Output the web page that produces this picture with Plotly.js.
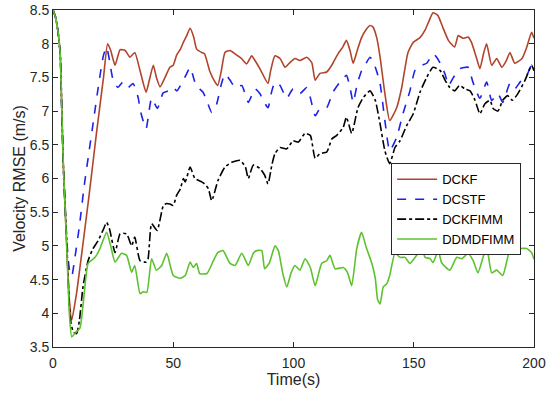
<!DOCTYPE html>
<html>
<head>
<meta charset="utf-8">
<script src="https://cdn.plot.ly/plotly-3.0.1.min.js"></script>
<style>html,body{margin:0;padding:0;background:#fff;}#chart{width:550px;height:393px;}</style>
</head>
<body>
<div id="chart"></div>
<script>
const seriesNames = ['DCKF', 'DCSTF', 'DCKFIMM', 'DDMDFIMM'];
const xTicks = [0, 50, 100, 150, 200];
const yTicks = [3.5, 4, 4.5, 5, 5.5, 6, 6.5, 7, 7.5, 8, 8.5];

const tDCKF = [0,1,2,3,3.6,4.3,5.7,6.8,7.8,9.8,12,15,18,21,22.7,24,25.8,27.9,30,32,34,36.2,38.7,40,41.7,43,44.5,46.6,48.6,50,51.4,53,54.2,55.6,57,58.5,59.7,61.8,63,65.3,67.4,68.5,70,71.5,73.6,75.7,78.4,80.5,82.6,84,86,89.4,90.5,92.3,94.4,96.5,98.5,100.6,102.7,105.5,107.6,109,111,113.8,115.9,118.5,120.5,122,123.5,124.8,126.5,128.3,130,131.8,133,134.6,136,138,140,142.9,145,147.6,149.8,152.6,154.7,156.5,158,160,162,164.4,167,168.5,170.5,172.6,174,176,177.5,179,180.3,182.4,184.5,186.6,188.5,190,192,195,197,199,200];
const vDCKF = [8.5,8.4,8.2,7.85,7.1,6.2,5.0,4.2,3.9,4.3,4.9,5.75,6.65,7.5,8.0,7.9,7.68,7.91,7.9,7.8,7.87,7.6,7.28,7.45,7.68,7.5,7.36,7.5,7.65,7.68,7.83,7.92,8.02,8.12,8.23,8.1,7.92,7.87,7.85,7.58,7.43,7.38,7.6,7.87,7.9,7.85,7.78,7.7,7.82,7.75,7.63,7.41,7.6,7.82,7.78,7.65,7.72,7.78,7.75,7.8,7.72,7.46,7.56,7.58,7.68,7.85,7.95,8.05,7.9,7.71,7.9,8.09,8.2,8.27,8.25,8.09,7.8,7.26,6.86,7.05,7.35,7.87,8.02,8.09,8.2,8.35,8.46,8.42,8.25,8.05,7.95,8.12,8.08,8.1,8.02,7.8,7.63,7.85,8.0,7.68,7.78,7.65,7.75,7.87,7.71,7.78,7.95,8.17,8.08];

const tDCSTF = [0,1,2,3,3.6,4.3,5.5,6.8,7.8,9,11,13,15,17,19,21,22.3,23.5,25,27,29,31.2,33.3,35.4,36.5,38.7,41,43.4,45.8,48,50,51.5,53.5,55.5,57,58,59.5,62.4,64,66,68,70,71.5,73.6,75.7,78.5,81.2,84,86,87.5,89.4,91,92.3,94.4,97.2,99.8,102.7,105.5,107,109,111,113.8,116.4,119.3,122,123.5,124.8,126.5,128.3,130,131.8,133,134.5,136,138,140,142.9,145.5,148.4,150.5,153.3,155.4,158,159.5,161,163,164.5,166.5,169.2,172.6,174.6,177.5,180.3,182.4,185,187,190,192,194.2,197,199,200];
const vDCSTF = [8.5,8.4,8.2,7.85,7.1,6.2,5.2,4.65,4.55,4.8,5.3,5.9,6.4,6.9,7.4,7.83,7.95,7.75,7.46,7.35,7.43,7.35,7.41,7.2,6.98,6.74,7.19,7.04,7.27,7.3,7.35,7.3,7.41,7.55,7.65,7.55,7.38,7.28,7.15,6.98,7.1,7.4,7.55,7.46,7.35,7.38,7.13,7.33,7.26,7.15,7.05,7.3,7.43,7.38,7.19,7.33,7.26,7.35,7.2,6.93,7.04,7.05,7.28,7.43,7.53,7.35,7.13,7.4,7.6,7.7,7.8,7.75,7.6,7.41,6.86,6.41,6.61,6.96,7.3,7.6,7.68,7.71,7.85,7.8,7.71,7.55,7.38,7.5,7.63,7.65,7.43,7.19,7.43,7.16,7.26,7.13,7.41,7.33,7.43,7.53,7.68,7.58];

const tDCKFIMM = [0,1,2,3,3.6,4.3,5.7,6.8,7.5,8.5,9.8,11,12.5,14.6,16.5,18.8,21,22.3,23.5,25.8,27.9,30.6,32.7,34,36.2,38.7,39.5,41,43.3,45.9,47.3,48.6,50,51.4,53,54.2,55,57,59,61.8,63,64.6,66,68.6,71.5,74.3,77.8,80,81.2,83.3,86,88,89.4,91,92.3,94.4,97.2,99.8,102,104.8,107,109,111,113.8,116,118,120.7,122,124.2,126.8,129,131.8,134,136,138,140,142.2,144.3,147,149.8,152.6,155.4,158,161,163,165,167,169,171.3,173.4,175.5,177.5,179.6,181.7,183,185,187,189,191,193.3,196.3,199,200];
const vDCKFIMM = [8.5,8.4,8.2,7.85,7.1,6.2,5.1,4.1,3.85,3.72,3.7,3.9,4.4,4.78,4.95,5.08,5.25,5.35,5.25,4.9,5.18,5.18,5.0,5.13,4.78,4.76,4.8,5.33,5.23,5.6,5.63,5.62,5.6,5.75,5.85,6.0,5.95,6.17,6.0,5.95,5.92,5.85,5.67,5.97,6.17,6.24,6.27,6.17,6.0,6.2,6.15,6.05,5.92,6.2,6.37,6.46,6.44,6.56,6.54,6.67,6.64,6.3,6.37,6.39,6.59,6.64,6.76,6.91,6.67,7.05,7.2,7.3,7.16,6.81,6.41,6.22,6.46,6.56,6.78,6.96,7.28,7.5,7.65,7.6,7.46,7.35,7.3,7.38,7.33,7.3,7.16,6.96,7.11,7.16,7.04,7.0,7.16,7.23,7.16,7.26,7.46,7.68,7.6];

const tDDMDFIMM = [0,1,2,3,3.6,4.3,5.7,6.8,7.8,9.5,11.2,13,14.6,17.5,19.5,22.3,24,25.8,28.5,30.6,32.7,34,36.2,37.5,39,41,43,45.2,47.3,50,52.8,55,57,58.3,59.7,61,64,66.7,68.5,70.7,73.6,75.7,78.5,81.2,83.3,84.7,86.8,88,90,92.3,93.7,95.5,97.2,99,100.6,102.7,104.8,107,109,111.7,113.8,115.2,117.3,120.7,122.5,124.2,126.3,128.3,130.4,132.5,134,135,136,137.3,138.8,140,142.2,144.3,146.4,148.4,151.2,153.3,154.7,156.8,158,160.2,161.6,165,167.9,170,172.6,174.7,176.7,178.8,180.3,182.4,184.5,187,190,192,194.2,197,199,200];
const vDDMDFIMM = [8.5,8.4,8.2,7.85,7.1,6.2,5.0,4.0,3.65,3.72,3.78,4.3,4.74,4.83,4.96,5.2,5.0,4.76,4.89,4.86,4.61,4.71,4.29,4.32,4.31,4.81,4.64,4.71,4.89,4.56,4.52,4.56,4.76,4.68,4.74,4.59,4.59,4.78,4.9,4.93,4.74,4.71,4.89,4.71,4.89,4.93,4.93,4.66,4.75,5.0,4.93,4.6,4.39,4.6,4.71,4.64,4.81,4.68,4.41,4.74,4.78,4.86,4.66,4.68,4.6,4.41,4.96,5.2,4.96,4.75,4.52,4.2,4.14,4.39,4.44,4.56,4.89,4.83,4.83,4.74,4.86,4.98,4.83,4.81,4.75,4.93,4.75,4.64,4.83,4.81,4.89,4.78,4.6,4.83,5.0,4.6,4.64,4.56,4.93,4.89,4.96,4.96,4.9,4.8];

const xs = [tDCKF, tDCSTF, tDCKFIMM, tDDMDFIMM];
const ys = [vDCKF, vDCSTF, vDCKFIMM, vDDMDFIMM];
const styles = [
  {color: '#B0452C', dash: 'solid'},
  {color: '#1F22E6', dash: 'dash'},
  {color: '#000000', dash: 'dashdot'},
  {color: '#5CC22E', dash: 'solid'}
];

const FONT = 'Liberation Sans, Arial, sans-serif';

const traces = seriesNames.map((n, i) => ({
  type: 'scatter', mode: 'lines', name: n,
  x: xs[i], y: ys[i],
  line: {color: styles[i].color, dash: styles[i].dash, width: 1.6, shape: 'spline', smoothing: 0.5}
}));

const axisCommon = {
  showgrid: false, zeroline: false, showline: true, mirror: 'ticks',
  linecolor: '#262626', linewidth: 1, ticks: 'inside', ticklen: 5, tickcolor: '#262626',
  tickfont: {family: FONT, size: 14, color: '#262626'}
};

const layout = {
  width: 550, height: 393,
  margin: {l: 53, r: 16, t: 10, b: 46},
  paper_bgcolor: '#ffffff', plot_bgcolor: '#ffffff',
  showlegend: true,
  legend: {
    x: 0.703, y: 0.545, xanchor: 'left', yanchor: 'top',
    bgcolor: '#ffffff', bordercolor: '#262626', borderwidth: 1,
    font: {family: FONT, size: 13, color: '#000'},
    tracegroupgap: 0, itemwidth: 40
  },
  xaxis: Object.assign({}, axisCommon, {
    range: [0, 200], tickvals: xTicks, ticktext: xTicks.map(String),
    ticklabelstandoff: 3,
    title: {text: 'Time(s)', font: {family: FONT, size: 16, color: '#262626'}, standoff: 2}
  }),
  yaxis: Object.assign({}, axisCommon, {
    range: [3.5, 8.5], tickvals: yTicks, ticktext: yTicks.map(String),
    title: {text: 'Velocity RMSE (m/s)', font: {family: FONT, size: 16, color: '#262626'}, standoff: 0}
  })
};

Plotly.newPlot('chart', traces, layout, {displayModeBar: false, staticPlot: true});
</script>
</body>
</html>
